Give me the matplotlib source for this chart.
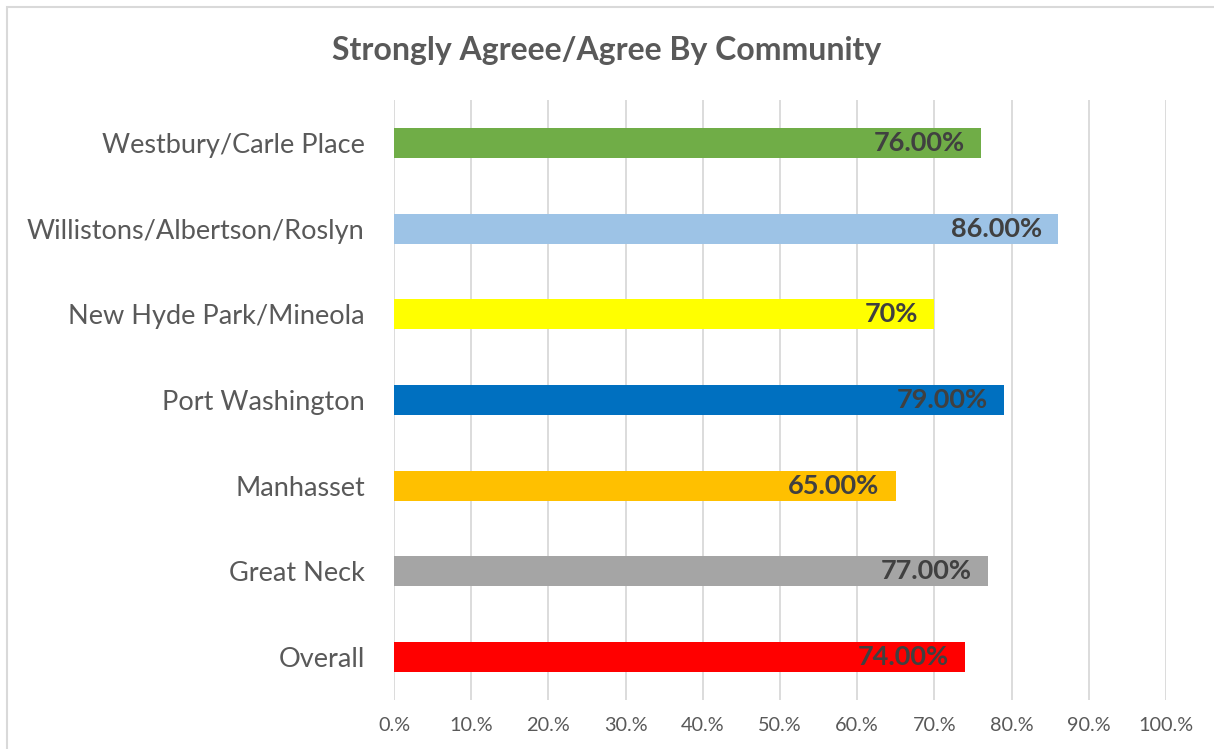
import matplotlib.pyplot as plt
from matplotlib.patches import Rectangle

communities = ['Overall', 'Great Neck', 'Manhasset', 'Port Washington',
               'New Hyde Park/Mineola', 'Willistons/Albertson/Roslyn',
               'Westbury/Carle Place']
values = [74.0, 77.0, 65.0, 79.0, 70.0, 86.0, 76.0]
value_labels = ['74.00%', '77.00%', '65.00%', '79.00%', '70%', '86.00%', '76.00%']
colors = ['#FF0000', '#A5A5A5', '#FFC000', '#0070C0', '#FFFF00', '#9DC3E6', '#70AD47']
ticks = [0, 10, 20, 30, 40, 50, 60, 70, 80, 90, 100]
tick_labels = ['0.%', '10.%', '20.%', '30.%', '40.%', '50.%', '60.%', '70.%',
               '80.%', '90.%', '100.%']

plt.rcParams['font.family'] = ['Lato', 'DejaVu Sans']

fig = plt.figure(figsize=(12.14, 7.49), dpi=100)
ax = fig.add_axes([0.3245, 0.0654, 0.636, 0.801])

ypos = list(range(len(communities)))
ax.barh(ypos, values, height=0.35, color=colors, zorder=3)

for y, v, lab in zip(ypos, values, value_labels):
    ax.text(v - 2.1, y, lab, ha='right', va='center', fontsize=19.5,
            fontweight='bold', color='#404040', zorder=4)

ax.set_xlim(0, 100)
ax.set_ylim(-0.5, 6.5)
ax.set_xticks(ticks)
ax.set_xticklabels(tick_labels, fontsize=14.3, color='#595959')
ax.set_yticks(ypos)
ax.set_yticklabels(communities, fontsize=19.5, color='#595959')
ax.tick_params(axis='both', length=0)
ax.tick_params(axis='x', pad=12)
ax.tick_params(axis='y', pad=21)
ax.grid(axis='x', color='#D9D9D9', lw=1.3, zorder=0)
for s in ax.spines.values():
    s.set_visible(False)

fig.text(0.5, 0.932, 'Strongly Agreee/Agree By Community', ha='center', va='center',
         fontsize=23, fontweight='bold', color='#595959')

fig.patches.append(Rectangle((0.006, -0.01), 1.0, 1.0, transform=fig.transFigure,
                             fill=False, edgecolor='#D9D9D9', lw=1.5))

fig.savefig('out.png', dpi=100)
